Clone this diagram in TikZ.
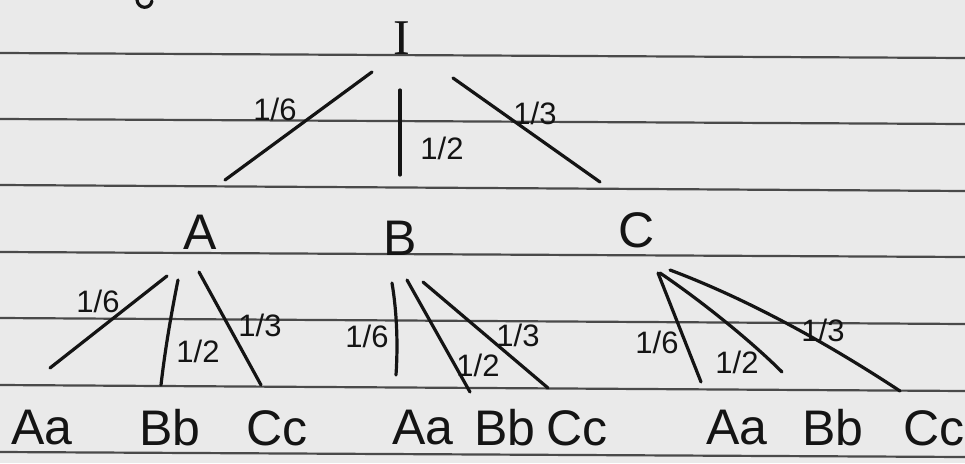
\documentclass[tikz,border=0pt]{standalone}
\usepackage{fontspec}
\setmainfont{Liberation Sans}
\newfontfamily\romanI{Liberation Serif}
\definecolor{paperc}{HTML}{EAEAEA}
\definecolor{rulec}{HTML}{4A4A4A}
\definecolor{inkc}{HTML}{141414}
\begin{document}
\begin{tikzpicture}[x=1pt,y=-1pt,
  ink/.style={draw=inkc, line width=3.2pt, line cap=round},
  rule/.style={draw=rulec, line width=2.2pt},
  lbl/.style={text=inkc, inner sep=0pt, font=\fontsize{31}{31}\selectfont},
  root/.style={text=inkc, inner sep=0pt, font=\romanI\fontsize{50}{50}\selectfont},
  mid/.style={text=inkc, inner sep=0pt, font=\fontsize{50}{50}\selectfont},
  leaf/.style={text=inkc, inner sep=0pt, font=\fontsize{50}{50}\selectfont}]
\fill[paperc] (0,0) rectangle (965,463);
\useasboundingbox (0,0) rectangle (965,463);
% ruled paper
\foreach \ya/\yb in {53/58,119/124,185/191,252/257,318/324,385/391,452/457}
  \draw[rule] (0,\ya) -- (965,\yb);
% fragment of handwriting at the top
\draw[ink] (137,0) .. controls (138,9) and (150,10) .. (152,1);
% nodes
\node[root] (I) at (402,38) {I};
\node[mid] (A) at (200,232) {A};
\node[mid] (B) at (400,238) {B};
\node[mid] (C) at (637,230) {C};
\node[leaf] (AAa) at (42,428) {Aa};
\node[leaf] (ABb) at (170,428) {Bb};
\node[leaf] (ACc) at (277,428) {Cc};
\node[leaf] (BAa) at (423,428) {Aa};
\node[leaf] (BBb) at (505,428) {Bb};
\node[leaf] (BCc) at (577,428) {Cc};
\node[leaf] (CAa) at (737,428) {Aa};
\node[leaf] (CBb) at (833,428) {Bb};
\node[leaf] (CCc) at (934,428) {Cc};
% connector end points
\coordinate (IAs) at (372,72);  \coordinate (IAe) at (225,180);
\coordinate (IBs) at (400,90);  \coordinate (IBe) at (400,175);
\coordinate (ICs) at (453,78);  \coordinate (ICe) at (600,182);
\coordinate (AAs) at (167,276); \coordinate (AAe) at (50,368);
\coordinate (ABs) at (178,280); \coordinate (ABe) at (161,385);
\coordinate (ACs) at (199,272); \coordinate (ACe) at (261,385);
\coordinate (BAs) at (392,283); \coordinate (BAe) at (396,375);
\coordinate (BBs) at (407,280); \coordinate (BBe) at (470,392);
\coordinate (BCs) at (423,282); \coordinate (BCe) at (548,388);
\coordinate (CAs) at (658,273); \coordinate (CAe) at (701,382);
\coordinate (CBs) at (660,273); \coordinate (CBe) at (782,372);
\coordinate (CCs) at (670,270); \coordinate (CCe) at (900,391);
% connectors
\draw[ink] (IAs) -- (IAe);
\draw[ink] (IBs) -- (IBe);
\draw[ink] (ICs) -- (ICe);
\draw[ink] (AAs) -- (AAe);
\draw[ink] (ABs) .. controls (171,315) and (165,350) .. (ABe);
\draw[ink] (ACs) -- (ACe);
\draw[ink] (BAs) .. controls (397,313) and (398,345) .. (BAe);
\draw[ink] (BBs) -- (BBe);
\draw[ink] (BCs) -- (BCe);
\draw[ink] (CAs) -- (CAe);
\draw[ink] (CBs) .. controls (700,300) and (750,340) .. (CBe);
\draw[ink] (CCs) .. controls (750,300) and (830,345) .. (CCe);
% probabilities
\node[lbl] (pIA) at (275,109) {1/6};
\node[lbl] (pIB) at (442,148) {1/2};
\node[lbl] (pIC) at (535,113) {1/3};
\node[lbl] (pAA) at (98,301) {1/6};
\node[lbl] (pAB) at (198,351) {1/2};
\node[lbl] (pAC) at (260,325) {1/3};
\node[lbl] (pBA) at (367,336) {1/6};
\node[lbl] (pBB) at (478,365) {1/2};
\node[lbl] (pBC) at (518,335) {1/3};
\node[lbl] (pCA) at (657,342) {1/6};
\node[lbl] (pCB) at (737,362) {1/2};
\node[lbl] (pCC) at (823,330) {1/3};
\end{tikzpicture}
\end{document}
